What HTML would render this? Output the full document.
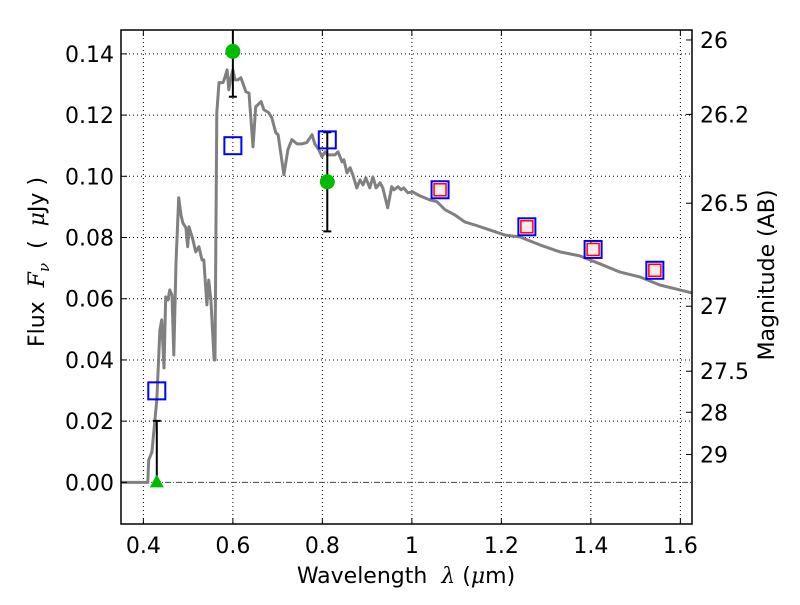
<!DOCTYPE html>
<html><head><meta charset="utf-8"><style>
body{margin:0;background:#fff;}
svg text{font-family:"DejaVu Sans","Liberation Sans",sans-serif;fill:#000;white-space:pre;}
</style></head><body>
<svg id="chart" width="800" height="600" viewBox="0 0 800 600" xmlns="http://www.w3.org/2000/svg"></svg>
<script>
const sedWave=[0.35,0.410,0.412,0.419,0.430,0.437,0.441,0.446,0.450,0.455,0.459,0.464,0.468,0.473,0.479,0.484,0.488,0.495,0.499,0.502,0.511,0.517,0.524,0.531,0.535,0.542,0.546,0.551,0.558,0.560,0.564,0.569,0.578,0.582,0.587,0.591,0.596,0.600,0.605,0.611,0.618,0.629,0.636,0.645,0.651,0.663,0.669,0.680,0.687,0.696,0.701,0.714,0.723,0.732,0.743,0.754,0.765,0.777,0.783,0.792,0.799,0.806,0.812,0.828,0.835,0.844,0.848,0.855,0.862,0.868,0.877,0.884,0.891,0.897,0.906,0.913,0.920,0.929,0.935,0.946,0.955,0.960,0.969,0.976,0.982,0.991,1.002,1.018,1.040,1.056,1.074,1.096,1.118,1.141,1.174,1.208,1.241,1.286,1.331,1.375,1.420,1.465,1.510,1.554,1.599,1.626];
const sedFlux=[0,0,0.0073,0.0099,0.0269,0.0498,0.0531,0.0374,0.0606,0.0596,0.0629,0.0612,0.0416,0.0717,0.093,0.0874,0.0848,0.0832,0.0770,0.0835,0.0792,0.0753,0.0770,0.0727,0.0727,0.0580,0.0661,0.0596,0.0400,0.0400,0.1208,0.1306,0.1306,0.1322,0.1348,0.1283,0.1325,0.1348,0.1315,0.1315,0.1322,0.1276,0.1272,0.1096,0.1227,0.1244,0.1218,0.1208,0.1191,0.1142,0.1136,0.1005,0.1087,0.1120,0.1106,0.1106,0.1110,0.1136,0.1106,0.1087,0.1064,0.1080,0.1070,0.1070,0.1080,0.1047,0.1054,0.1011,0.1028,0.1005,0.0962,0.0988,0.0972,0.0995,0.0962,0.0998,0.0962,0.0979,0.0962,0.0897,0.0966,0.0956,0.0966,0.0956,0.0962,0.0946,0.0949,0.0936,0.0923,0.0917,0.0891,0.0874,0.0851,0.0841,0.0825,0.0808,0.0802,0.0776,0.0753,0.0740,0.0714,0.0687,0.0671,0.0645,0.0629,0.0619];
const photWave=[0.430,0.600,0.811,1.063,1.257,1.405,1.543];
const photFlux=[0.0299,0.110,0.1119,0.0956,0.0835,0.0761,0.0693];
const modelWave=[1.063,1.257,1.405,1.543];
const modelFlux=[0.0956,0.0835,0.0761,0.0693];
const detWave=[0.600,0.811];
const detFlux=[0.1408,0.0982];
const detErr=[0.0148,0.0162];
const ulWave=[0.430];
const ulFlux=[0];
const ulErr=[0.0201];
const xTicks=[0.4,0.6,0.8,1.0,1.2,1.4,1.6];
const xTickLabels=["0.4","0.6","0.8","1","1.2","1.4","1.6"];
const yTicks=[0,0.02,0.04,0.06,0.08,0.10,0.12,0.14];
const yTickLabels=["0.00","0.02","0.04","0.06","0.08","0.10","0.12","0.14"];
const magTicks=[26,26.2,26.5,27,27.5,28,29];
const magTickLabels=["26","26.2","26.5","27","27.5","28","29"];

const L=121,R=692,T=30,B=524;
const X0=0.35,X1=1.626,Y0=-0.0136,Y1=0.1478;
const sx=v=>L+(v-X0)/(X1-X0)*(R-L);
const sy=v=>B-(v-Y0)/(Y1-Y0)*(B-T);
const NS="http://www.w3.org/2000/svg";
const svg=document.getElementById('chart');
function mk(tag,attrs,parent){const e=document.createElementNS(NS,tag);for(const k in attrs)e.setAttribute(k,attrs[k]);(parent||svg).appendChild(e);return e;}

const defs=mk('defs',{});
const cp=mk('clipPath',{id:'plotclip'},defs);
mk('rect',{x:L,y:T,width:R-L,height:B-T},cp);

const grid=mk('g',{});


xTicks.forEach(t=>{mk('line',{x1:sx(t),x2:sx(t),y1:T,y2:B,stroke:'#000','stroke-width':1,'stroke-dasharray':'1,3'},grid);});
yTicks.forEach(t=>{if(t===0)return;mk('line',{x1:L,x2:R,y1:sy(t),y2:sy(t),stroke:'#000','stroke-width':1,'stroke-dasharray':'1,3'},grid);});
const zl=mk('line',{x1:L,x2:R,y1:sy(0),y2:sy(0),stroke:'#444','stroke-width':1,'stroke-dasharray':'6,2,1,2'});



const g=mk('g',{'clip-path':'url(#plotclip)'});
const pts=sedWave.map((w,i)=>sx(w).toFixed(1)+','+sy(sedFlux[i]).toFixed(1)).join(' ');
const sed=mk('polyline',{points:pts,fill:'none',stroke:'#808080','stroke-width':3,'stroke-linejoin':'round'},g);



function errbar(x,lo,hi,name){
  const eg=mk('g',{},g);
  
  
  mk('line',{x1:sx(x),x2:sx(x),y1:sy(lo),y2:sy(hi),stroke:'#000','stroke-width':2},eg);
  mk('line',{x1:sx(x)-4,x2:sx(x)+4,y1:sy(lo),y2:sy(lo),stroke:'#000','stroke-width':2},eg);
  mk('line',{x1:sx(x)-4,x2:sx(x)+4,y1:sy(hi),y2:sy(hi),stroke:'#000','stroke-width':2},eg);
}
detWave.forEach((w,i)=>errbar(w,detFlux[i]-detErr[i],detFlux[i]+detErr[i],'detection-errorbar'));
ulWave.forEach((w,i)=>errbar(w,ulFlux[i],ulFlux[i]+ulErr[i],'upper-limit-errorbar'));

photWave.forEach((w,i)=>{
  const r=mk('rect',{x:sx(w)-8.5,y:sy(photFlux[i])-8.5,width:17,height:17,fill:'none',stroke:'#0000ff','stroke-width':2},g);
  
  
});
modelWave.forEach((w,i)=>{
  const r=mk('rect',{x:sx(w)-6,y:sy(modelFlux[i])-6,width:12,height:12,fill:'#ffe8e8',stroke:'#ff0000','stroke-width':1.5},g);
  
  
});
detWave.forEach((w,i)=>{
  const c=mk('circle',{cx:sx(w),cy:sy(detFlux[i]),r:7.5,fill:'#00bb00'},g);
  
  
});
ulWave.forEach((w,i)=>{
  const x=sx(w),y=sy(ulFlux[i]);
  const t=mk('polygon',{points:`${x},${y-8} ${x-7},${y+5} ${x+7},${y+5}`,fill:'#00bb00'},g);
  
  
});

const fr=mk('rect',{x:L,y:T,width:R-L,height:B-T,fill:'none',stroke:'#000','stroke-width':1.5});



xTicks.forEach((t,i)=>{
  mk('line',{x1:sx(t),x2:sx(t),y1:B,y2:B-6,stroke:'#000'});
  mk('line',{x1:sx(t),x2:sx(t),y1:T,y2:T+6,stroke:'#000'});
  const tx=mk('text',{x:sx(t),y:B+29,'text-anchor':'middle','font-size':22});
  tx.textContent=xTickLabels[i];
  
  
});
yTicks.forEach((t,i)=>{
  mk('line',{x1:L,x2:L+6,y1:sy(t),y2:sy(t),stroke:'#000'});
  const tx=mk('text',{x:L-7,y:sy(t)+8,'text-anchor':'end','font-size':22});
  tx.textContent=yTickLabels[i];
  
  
});
magTicks.forEach((m,i)=>{
  const f=Math.pow(10,(23.9-m)/2.5);
  const y=sy(f);
  mk('line',{x1:R,x2:R-6,y1:y,y2:y,stroke:'#000'});
  const tx=mk('text',{x:R+8,y:y+8,'text-anchor':'start','font-size':22});
  tx.textContent=magTickLabels[i];
  
  
});

const xt=mk('text',{x:406,y:583,'text-anchor':'middle','font-size':22});
xt.innerHTML='Wavelength  <tspan font-style="italic" font-family="DejaVu Serif, serif">λ</tspan> (<tspan font-style="italic" font-family="DejaVu Serif, serif">μ</tspan>m)';


const yt=mk('text',{x:0,y:0,'text-anchor':'middle','font-size':22,transform:'translate(44,262) rotate(-90)'});
yt.innerHTML='Flux  <tspan font-style="italic" font-family="DejaVu Serif, serif">F</tspan><tspan font-style="italic" font-family="DejaVu Serif, serif" font-size="15" dy="5">ν</tspan><tspan dy="-5">  (  </tspan><tspan font-style="italic" font-family="DejaVu Serif, serif">μ</tspan>Jy )';


const rt=mk('text',{x:0,y:0,'text-anchor':'middle','font-size':22,transform:'translate(774,275) rotate(-90)'});
rt.textContent='Magnitude (AB)';


</script>
</body></html>
